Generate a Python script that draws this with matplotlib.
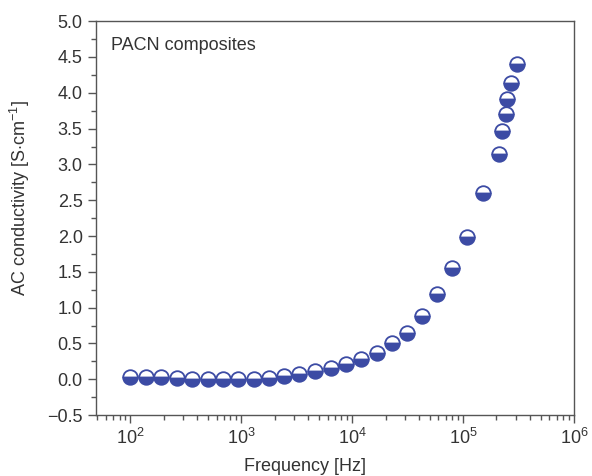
import numpy as np
import matplotlib
matplotlib.use("Agg")
import matplotlib.pyplot as plt

plt.rcParams['font.family'] = ['Liberation Sans', 'DejaVu Sans']
plt.rcParams['mathtext.fontset'] = 'custom'
plt.rcParams['mathtext.rm'] = 'Liberation Sans'
plt.rcParams['mathtext.it'] = 'Liberation Sans:italic'
plt.rcParams['mathtext.bf'] = 'Liberation Sans:bold'

# frequency [Hz] and AC conductivity
freq = [100, 138, 190, 263, 363, 501, 684, 943, 1300, 1780,
        2450, 3350, 4580, 6390, 8720, 11900, 16600, 22700, 31000, 42900,
        58600, 80100, 109000, 151000, 211000, 226000, 242000, 251000, 273000, 309000]
sigma = [0.03, 0.03, 0.03, 0.02, 0.01, 0.01, 0.0, 0.0, 0.01, 0.02,
         0.04, 0.08, 0.11, 0.16, 0.21, 0.28, 0.37, 0.50, 0.64, 0.89,
         1.19, 1.55, 1.98, 2.60, 3.15, 3.47, 3.70, 3.91, 4.14, 4.40]

txt = '#333333'
blue = '#3c4ba4'
fs = 13

fig = plt.figure(figsize=(5.92, 4.76), dpi=100)
ax = fig.add_axes([0.162, 0.128, 0.8076, 0.8275])

ax.plot(freq, sigma, linestyle='none', marker='o', markersize=10.5,
        fillstyle='bottom', markerfacecolor=blue, markerfacecoloralt='white',
        markeredgecolor=blue, markeredgewidth=1.3)

ax.set_xscale('log')
ax.set_xlim(49, 1e6)
ax.set_ylim(-0.5, 5.0)
ax.set_yticks(np.arange(-0.5, 5.01, 0.5))
ax.set_yticks(np.arange(-0.25, 5.0, 0.5), minor=True)
ax.set_xticks([1e2, 1e3, 1e4, 1e5, 1e6])

for s in ax.spines.values():
    s.set_color('#555555')
    s.set_linewidth(1.0)
ax.tick_params(which='both', direction='out', colors='#555555', labelcolor=txt,
               labelsize=fs, top=False, right=False)
ax.tick_params(which='major', length=6, width=1.0)
ax.tick_params(which='minor', length=3.5, width=1.0)

ax.set_xlabel('Frequency [Hz]', fontsize=fs, color=txt)
ax.set_ylabel(r'AC conductivity [S$\cdot$cm$^{-1}$]', fontsize=fs, color=txt)
ax.xaxis.set_label_coords(0.437, -0.11)
ax.yaxis.set_label_coords(-0.133, 0.552)

ax.text(0.031, 0.937, 'PACN composites', transform=ax.transAxes,
        fontsize=fs, color=txt, va='center', ha='left')

plt.savefig('out.png', dpi=100)
